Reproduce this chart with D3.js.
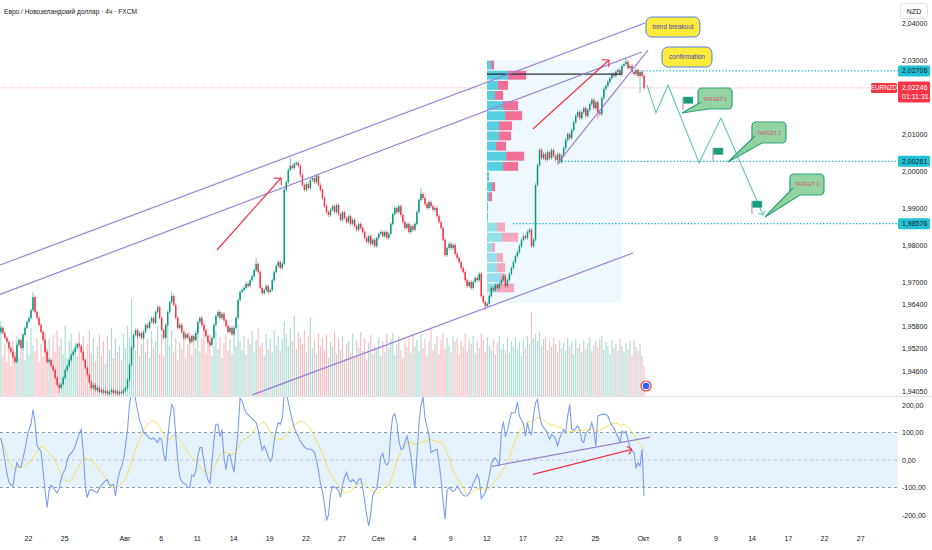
<!DOCTYPE html>
<html><head><meta charset="utf-8">
<script src="https://cdn.jsdelivr.net/npm/d3@7"></script>
<style>
html,body{margin:0;padding:0;background:#fff;}
svg{display:block;font-family:"Liberation Sans",Arial,sans-serif;}
</style></head><body>
<svg id="c" width="932" height="550"></svg>
<script>
// ---------------- DATA ----------------
const title = "Евро / Новозеландский доллар · 4ч · FXCM";
const currencyLabel = "NZD";
const symbol = "EURNZD";
const lastPrice = 2.02246;
const countdown = "01:11:31";
const firstBarDay = -2.25;      // trading-day index of first 4h bar (0 = 22 Jul 2025)
const barsPerDay = 6;
const firstOpen = 1.9565;
const closes = [
1.9576,1.9562,1.9549,1.9538,1.9522,1.9511,1.9497,1.9484,1.9530,1.9543,
1.9522,1.9557,1.9576,1.9592,1.9603,1.9624,1.9659,1.9619,1.9603,1.9584,
1.9565,1.9543,1.9511,1.9484,1.9489,1.9473,1.9462,1.9441,1.9422,1.9414,
1.9424,1.9441,1.9462,1.9473,1.9489,1.9503,1.9511,1.9522,1.9532,1.9527,
1.9511,1.9489,1.9468,1.9449,1.9430,1.9414,1.9422,1.9408,1.9414,1.9403,
1.9408,1.9400,1.9405,1.9397,1.9403,1.9408,1.9400,1.9405,1.9397,1.9403,
1.9400,1.9408,1.9414,1.9435,1.9476,1.9522,1.9557,1.9570,1.9554,1.9562,
1.9549,1.9565,1.9584,1.9576,1.9592,1.9603,1.9589,1.9619,1.9632,1.9603,
1.9570,1.9549,1.9584,1.9619,1.9646,1.9662,1.9638,1.9603,1.9576,1.9584,
1.9565,1.9549,1.9559,1.9549,1.9538,1.9554,1.9543,1.9562,1.9592,1.9603,
1.9584,1.9570,1.9554,1.9538,1.9530,1.9549,1.9584,1.9608,1.9619,1.9603,
1.9614,1.9597,1.9581,1.9565,1.9576,1.9559,1.9576,1.9603,1.9651,1.9673,
1.9678,1.9684,1.9695,1.9689,1.9705,1.9716,1.9732,1.9749,1.9727,1.9684,
1.9670,1.9678,1.9689,1.9673,1.9678,1.9705,1.9727,1.9743,1.9754,1.9738,
1.9749,1.9949,1.9970,2.0003,2.0014,2.0008,2.0019,2.0022,2.0014,1.9989,
1.9962,1.9949,1.9965,1.9954,1.9976,1.9981,1.9970,1.9987,1.9962,1.9949,
1.9927,1.9905,1.9889,1.9881,1.9895,1.9905,1.9889,1.9908,1.9884,1.9868,
1.9889,1.9873,1.9862,1.9878,1.9857,1.9868,1.9851,1.9841,1.9857,1.9846,
1.9835,1.9819,1.9808,1.9824,1.9803,1.9814,1.9797,1.9819,1.9830,1.9835,
1.9824,1.9835,1.9819,1.9830,1.9857,1.9884,1.9900,1.9889,1.9905,1.9881,
1.9862,1.9846,1.9857,1.9835,1.9851,1.9841,1.9857,1.9889,1.9922,1.9938,
1.9927,1.9911,1.9900,1.9916,1.9905,1.9895,1.9900,1.9878,1.9862,1.9846,
1.9814,1.9773,1.9792,1.9803,1.9792,1.9800,1.9776,1.9765,1.9754,1.9738,
1.9727,1.9705,1.9689,1.9700,1.9684,1.9700,1.9711,1.9705,1.9722,1.9662,
1.9646,1.9635,1.9641,1.9662,1.9684,1.9678,1.9692,1.9684,1.9695,1.9705,
1.9716,1.9689,1.9705,1.9722,1.9738,1.9754,1.9770,1.9781,1.9797,1.9814,
1.9824,1.9819,1.9835,1.9841,1.9797,1.9814,1.9962,2.0016,2.0057,2.0035,
2.0046,2.0030,2.0051,2.0035,2.0057,2.0041,2.0030,2.0046,2.0024,2.0041,
2.0062,2.0084,2.0100,2.0089,2.0111,2.0132,2.0149,2.0159,2.0143,2.0159,
2.0170,2.0149,2.0165,2.0181,2.0192,2.0170,2.0186,2.0159,2.0154,2.0197,
2.0222,2.0230,2.0241,2.0251,2.0262,2.0257,2.0268,2.0273,2.0262,2.0284,
2.0289,2.0295,2.0278,2.0284,2.0268,2.0262,2.0273,2.0257,2.0268,2.0257,
2.02246];
const highOverride = {16:1.9673, 85:1.9673, 127:1.9765, 144:2.0035, 209:1.9954, 311:2.0308};
const lowOverride = {29:1.9400, 53:1.9394, 241:1.9624, 297:2.0140, 318:2.0211};
const volumes = [
75,40,52,35,48,30,55,44,60,38, 47,62,36,55,41,68,50,45,58,33,
52,40,63,48,57,35,61,44,66,50, 58,42,70,38,55,62,47,53,40,64,
45,60,37,52,66,43,58,35,49,61, 40,55,32,60,46,68,38,57,44,50,
36,62,48,70,58,98,55,45,63,40, 52,60,44,57,38,65,48,55,70,42,
62,40,56,73,50,66,44,58,36,54, 47,60,38,52,64,41,55,48,67,45,
58,70,43,55,62,40,50,66,47,59, 38,53,61,45,57,42,64,50,72,55,
46,60,41,58,52,65,44,56,68,49, 53,40,62,47,58,44,66,51,60,45,
57,75,62,50,68,55,80,47,64,59, 52,66,44,60,79,48,56,42,63,50,
58,45,61,38,54,49,65,42,57,46, 60,37,52,55,43,62,40,56,48,64,
45,58,36,53,61,42,50,47,59,40, 55,44,62,48,57,63,41,52,60,46,
38,54,49,58,43,61,50,56,45,62, 48,57,40,55,68,46,52,60,42,56,
63,47,58,51,44,60,54,58,41,55, 49,62,45,57,52,60,43,55,48,62,
56,44,59,50,46,57,41,53,60,47, 52,45,58,43,55,49,58,47,54,40,
56,48,60,52,84,58,62,55,64,50, 57,60,46,55,49,58,52,44,56,48,
53,45,58,50,55,42,57,48,52,44, 56,47,53,58,45,51,55,49,57,60,
46,54,50,42,56,48,52,45,57,50, 44,53,47,55,41,56,49,45,52,40,
30];
const cci = [
80,45,0,-50,-80,-90,-95,-46,-10,-25, -25,5,39,80,110,130,184,136,51,42,
30,-40,-110,-173,-110,-92,-100,-110,-120,-105, -70,-46,-34,0,18,25,35,51,75,95,
111,30,-95,-137,-110,-108,-112,-115,-119,-103, -92,-84,-75,-72,-90,-93,-88,-131,-78,-45,
-25,0,50,110,200,250,260,220,180,145, 125,100,93,87,78,76,80,72,63,80,
75,20,-4,80,150,202,186,90,0,-62, -78,-85,-88,-100,-100,-55,-60,-40,15,45,
45,-5,-45,-72,-85,-10,70,130,130,85, 110,10,-34,15,20,-15,-44,30,105,225,
215,190,172,165,158,150,143,136,110,70, 36,50,35,12,-5,10,70,110,136,130,
150,240,245,210,175,145,115,100,85,68, 58,47,42,39,39,36,28,0,-38,-85,
-115,-160,-220,-200,-125,-96,-100,-103,-110,-135, -90,-62,-46,-70,-80,-70,-78,-88,-70,-68,
-100,-150,-200,-240,-195,-130,-112,-107,-50,10, 25,-8,-18,-10,100,160,168,136,70,39,
40,65,87,55,15,-50,-100,15,130,200, 230,155,120,90,28,32,36,39,-10,-70,
-150,-215,-110,-100,-107,-115,-110,-95,-105,-119, -128,-131,-130,-120,-107,-85,-70,-52,-70,-140,
-130,-119,-90,-58,-15,2,8,-5,-22,100, 140,87,105,140,172,170,175,211,160,145,
130,87,136,100,93,160,208,220,160,130, 118,111,95,75,93,88,75,51,80,95,
111,99,160,202,111,108,115,124,111,70, 63,99,105,111,136,105,51,160,163,166,
166,166,160,140,125,118,99,85,63,105, 99,105,75,45,33,27,-28,-10,-22,39,
-131];
const cciSmoothLen = 14;
const priceTicks = [2.04,2.03,2.01,2.00,1.99,1.98,1.97,1.964,1.958,1.952,1.946,1.9405];
const cciTicks = [200,100,0,-100,-200];
const cciBand = [100,-100];
const tickDates = ["2025-07-22","2025-07-25","2025-08-01","2025-08-06","2025-08-11","2025-08-14","2025-08-19","2025-08-22","2025-08-27","2025-09-01","2025-09-04","2025-09-09","2025-09-12","2025-09-17","2025-09-22","2025-09-25","2025-10-01","2025-10-06","2025-10-09","2025-10-14","2025-10-17","2025-10-22","2025-10-27"];
const tickLabels = ["22","25","Авг","6","11","14","19","22","27","Сен","4","9","12","17","22","25","Окт","6","9","14","17","22","27"];
const levels = [2.02706, 2.00261, 1.98576];
const levelStart = [51.0, 43.95, 40.2];
// volume profile (fixed range)
const profileStart = 38.06, profileEnd = 49.25, profileTop = 2.0300, profileBottom = 1.9643;
const profileUp   = [4,21,11,8,16,18,12,12,9,19,16,2,5,2,1,1,10,15,5,10,10,13,10,0];
const profileDown = [3,18,10,8,15,17,13,12,10,18,15,0,3,3,0,0,8,16,3,6,8,5,17,0];
const pocPrice = 2.0262;
// drawings: [tradingDay, price]
const channelLines = [
  [[-2.32,1.97459],[51.16,2.0400]],
  [[-2.32,1.96662],[50.91,2.03216]],
  [[18.57,1.93946],[50.17,1.97784]],
  [[43.86,2.00189],[51.41,2.0327]]
];
const priceArrows = [
  [[15.67,1.97865],[20.98,1.99811]],
  [[41.87,2.01135],[48.18,2.0300]]
];
const cciLine = [[38.47,-23],[51.58,83]];
const cciArrow = [[41.87,-52],[50.08,39]];
const projection = [[51.33,2.0232],[52.07,2.0157],[53.07,2.0232],[55.64,2.0022],[57.46,2.0143],[60.95,1.9881]];
const notes = [
  {text:"trend breakout", t:51.24, p:2.04162},
  {text:"confirmation",   t:52.57, p:2.03351}
];
const targets = [
  {text:"TARGET 1", t:55.56, p:2.02243, tipT:54.23, tipP:2.01568},
  {text:"TARGET 2", t:60.03, p:2.01324, tipT:58.04, tipP:2.00243},
  {text:"TARGET 3", t:63.18, p:1.99919, tipT:61.11, tipP:1.98757}
];
const flags = [[54.31,2.01649],[56.80,2.0027],[60.03,1.98838]];

// ---------------- LAYOUT ----------------
const svg = d3.select("#c");
const paneR = 898, priceBot = 396, cciTop = 397, cciBot = 528;
const FONT = 7;
const x = d3.scaleLinear().domain([0,69]).range([28, 28+12.06*69]);
const y = d3.scaleLinear().domain([1.94,2.04]).range([393,23]);
const vy = d3.scaleLinear().domain([0,100]).range([priceBot,priceBot-100]);
const cy = d3.scaleLinear().domain([-200,200]).range([515,405]);

function tradingDay(s){
  const base = Date.UTC(2025,6,22);
  const [Y,M,D] = s.split("-").map(Number);
  const t = Date.UTC(Y,M-1,D);
  let n = 0;
  for(let d=base; d<t; d+=86400000){ const wd=new Date(d).getUTCDay(); if(wd!==0&&wd!==6) n++; }
  return n;
}
const fmtP = v => d3.format(".5f")(v).replace(".",",");
const fmtC = v => d3.format(".2f")(v).replace(".",",").replace("−","-");

const defs = svg.append("defs");
defs.append("clipPath").attr("id","cp").append("rect").attr("x",0).attr("y",0).attr("width",paneR).attr("height",priceBot);
defs.append("clipPath").attr("id","cc").append("rect").attr("x",0).attr("y",cciTop).attr("width",paneR).attr("height",cciBot-cciTop);

const gP = svg.append("g").attr("clip-path","url(#cp)");
const gC = svg.append("g").attr("clip-path","url(#cc)");

// bars
const bars = closes.map((c,i)=>{
  const o = i===0 ? firstOpen : closes[i-1];
  const w = 0.0005;
  const hi = highOverride[i]!==undefined ? highOverride[i] : Math.max(o,c)+w;
  const lo = lowOverride[i]!==undefined ? lowOverride[i] : Math.min(o,c)-w;
  return {i, t:firstBarDay + i/barsPerDay, o, c, hi, lo, up:c>=o, v:volumes[i], cci:cci[i]};
});

// volume
gP.append("g").selectAll("rect").data(bars).join("rect")
  .attr("x",d=>x(d.t)-0.6).attr("width",1.2)
  .attr("y",d=>vy(d.v)).attr("height",d=>priceBot-vy(d.v))
  .attr("fill",d=>d.up?"rgba(8,153,129,0.33)":"rgba(242,54,69,0.32)");

// current price line
gP.append("line").attr("x1",0).attr("x2",872).attr("y1",y(lastPrice)).attr("y2",y(lastPrice))
  .attr("stroke","#f7a4aa").attr("stroke-width",0.8).attr("stroke-dasharray","1,1");

// volume profile
const px0 = x(profileStart), px1 = x(profileEnd);
gP.append("rect").attr("x",px0).attr("y",y(profileTop)).attr("width",px1-px0).attr("height",y(profileBottom)-y(profileTop))
  .attr("fill","#eef8fd");
const step = (profileTop-profileBottom)/profileUp.length;
const pw = d3.scaleLinear().domain([0,d3.max(profileUp.map((u,i)=>u+profileDown[i]))]).range([0,0.29*(px1-px0)]);
const gVP = gP.append("g");
profileUp.forEach((u,i)=>{
  const top = profileTop - i*step, bot = top - step;
  const y1 = y(top)+0.6, h = y(bot)-y(top)-1.2;
  const dark = i<16;
  gVP.append("rect").attr("x",px0).attr("y",y1).attr("width",pw(u)).attr("height",h).attr("fill",dark?"#56cfe0":"#93e0ea");
  gVP.append("rect").attr("x",px0+pw(u)).attr("y",y1).attr("width",pw(profileDown[i])).attr("height",h).attr("fill",dark?"#f07098":"#f5a7bb");
});

// levels
levels.forEach((l,i)=>{
  gP.append("line").attr("x1",x(levelStart[i])).attr("x2",paneR).attr("y1",y(l)).attr("y2",y(l))
    .attr("stroke","#16b8cf").attr("stroke-width",1.3).attr("stroke-dasharray","1.3,2");
});

// candles
const gK = gP.append("g");
gK.selectAll("line").data(bars).join("line")
  .attr("x1",d=>x(d.t)).attr("x2",d=>x(d.t)).attr("y1",d=>y(d.hi)).attr("y2",d=>y(d.lo))
  .attr("stroke",d=>d.up?"#089981":"#f23645").attr("stroke-width",0.7).attr("opacity",0.75);
gK.selectAll("rect").data(bars).join("rect")
  .attr("x",d=>x(d.t)-0.75).attr("width",1.5)
  .attr("y",d=>y(Math.max(d.o,d.c))).attr("height",d=>Math.max(1,Math.abs(y(d.o)-y(d.c))))
  .attr("fill",d=>d.up?"#089981":"#f23645");

// POC line
gP.append("line").attr("x1",px0).attr("x2",px1).attr("y1",y(pocPrice)).attr("y2",y(pocPrice))
  .attr("stroke","#2a2e39").attr("stroke-width",1.3);

// channel lines
const lineP = d3.line().x(d=>x(d[0])).y(d=>y(d[1]));
channelLines.forEach(l=>gP.append("path").attr("d",lineP(l)).attr("fill","none").attr("stroke","#9a80d6").attr("stroke-width",1.2));

function arrowHead(g,x1,y1,x2,y2,len,color,w){
  const a = Math.atan2(y2-y1,x2-x1);
  const p = d3.path();
  [Math.PI*0.75,-Math.PI*0.75].forEach(b=>{p.moveTo(x2,y2);p.lineTo(x2+len*Math.cos(a+b),y2+len*Math.sin(a+b));});
  g.append("path").attr("d",p.toString()).attr("fill","none").attr("stroke",color).attr("stroke-width",w);
}
priceArrows.forEach(a=>{
  gP.append("path").attr("d",lineP(a)).attr("fill","none").attr("stroke","#f23645").attr("stroke-width",1.2);
  arrowHead(gP,x(a[0][0]),y(a[0][1]),x(a[1][0]),y(a[1][1]),7,"#f23645",1.2);
});

// projection zigzag
gP.append("path").attr("d",lineP(projection)).attr("fill","none").attr("stroke","#6cc9b9").attr("stroke-width",1.2);
{ const n=projection.length; arrowHead(gP,x(projection[n-2][0]),y(projection[n-2][1]),x(projection[n-1][0]),y(projection[n-1][1]),5,"#6cc9b9",1.2); }

// flags
flags.forEach(f=>{
  const fx=x(f[0]), fy=y(f[1]);
  gP.append("line").attr("x1",fx).attr("x2",fx).attr("y1",fy).attr("y2",fy-13).attr("stroke","#8e939e").attr("stroke-width",1);
  gP.append("rect").attr("x",fx+0.5).attr("y",fy-13).attr("width",9.5).attr("height",6.5).attr("fill","#1a9a7a").attr("stroke","#4fb89c").attr("stroke-width",0.5);
});

// target callouts
targets.forEach(tg=>{
  const bx=x(tg.t), by=y(tg.p), bw=34, bh=21;
  const tx=x(tg.tipT), ty=y(tg.tipP);
  const b1=[bx+3,by+bh-7], b2=[bx+10,by+bh], inner=[bx+12,by+bh-8];
  gP.append("rect").attr("x",bx).attr("y",by).attr("width",bw).attr("height",bh).attr("rx",4)
    .attr("fill","#93d3a2").attr("stroke","#2fa37d").attr("stroke-width",1.2);
  gP.append("path").attr("d",`M${b1}L${tx},${ty}L${b2}L${inner}Z`).attr("fill","#93d3a2");
  gP.append("path").attr("d",`M${b1}L${tx},${ty}L${b2}`).attr("fill","none").attr("stroke","#2fa37d").attr("stroke-width",1.2);
  gP.append("text").attr("x",bx+bw/2).attr("y",by+bh/2+2).attr("text-anchor","middle")
    .attr("font-size",5.8).attr("fill","#d94f76").attr("textLength",24).attr("lengthAdjust","spacingAndGlyphs").text(tg.text);
});

// yellow notes
notes.forEach((n,i)=>{
  const bx=x(n.t), by=y(n.p), bw= i===0?54:50, bh=20;
  gP.append("rect").attr("x",bx).attr("y",by).attr("width",bw).attr("height",bh).attr("rx",6)
    .attr("fill","#ffeb3b").attr("stroke","#2962ff").attr("stroke-width",0.8);
  gP.append("text").attr("x",bx+bw/2).attr("y",by+bh/2+2.3).attr("text-anchor","middle")
    .attr("font-size",6.6).attr("fill","#4a3fb5").attr("textLength",i===0?41:36).attr("lengthAdjust","spacingAndGlyphs").text(n.text);
});

// event icon
{ const ex=x(bars[bars.length-1].t)+2, ey=386;
  gP.append("circle").attr("cx",ex).attr("cy",ey).attr("r",5).attr("fill","#fff").attr("stroke","#f23645").attr("stroke-width",1.2);
  gP.append("circle").attr("cx",ex).attr("cy",ey).attr("r",3.3).attr("fill","#2962ff"); }

// ---------------- CCI pane ----------------
gC.append("rect").attr("x",0).attr("width",paneR).attr("y",cy(cciBand[0])).attr("height",cy(cciBand[1])-cy(cciBand[0])).attr("fill","#e6f3fd");
[100,0,-100].forEach(v=>gC.append("line").attr("x1",0).attr("x2",paneR).attr("y1",cy(v)).attr("y2",cy(v))
  .attr("stroke",v===0?"#b8bcc6":"#8b8f99").attr("stroke-width",0.9).attr("stroke-dasharray","3,3"));
const cciMA = cci.map((v,i)=>d3.mean(cci.slice(Math.max(0,i-cciSmoothLen+1),i+1)));
const lineC = d3.line().x(d=>x(d.t)).y(d=>cy(d.v));
gC.append("path").attr("d",lineC(bars.map((b,i)=>({t:b.t,v:cciMA[i]})))).attr("fill","none").attr("stroke","#f9df5c").attr("stroke-width",1);
gC.append("path").attr("d",lineC(bars.map(b=>({t:b.t,v:b.cci})))).attr("fill","none").attr("stroke","#7b9df3").attr("stroke-width",1.1);
const lineCC = d3.line().x(d=>x(d[0])).y(d=>cy(d[1]));
gC.append("path").attr("d",lineCC(cciLine)).attr("fill","none").attr("stroke","#9a80d6").attr("stroke-width",1.2);
gC.append("path").attr("d",lineCC(cciArrow)).attr("fill","none").attr("stroke","#f23645").attr("stroke-width",1.3);
arrowHead(gC,x(cciArrow[0][0]),cy(cciArrow[0][1]),x(cciArrow[1][0]),cy(cciArrow[1][1]),6,"#f23645",1.3);

// separator
svg.append("line").attr("x1",0).attr("x2",932).attr("y1",priceBot+0.5).attr("y2",priceBot+0.5).attr("stroke","#e0e3eb").attr("stroke-width",1);

// ---------------- Axes ----------------
const txt = "#131722";
const yAx = d3.axisRight(y).tickValues(priceTicks).tickSize(0).tickPadding(0).tickFormat(fmtP);
const gYA = svg.append("g").attr("transform",`translate(902,0)`).call(yAx);
gYA.select(".domain").remove();
gYA.selectAll("text").attr("font-size",FONT).attr("fill",txt).attr("font-family","Liberation Sans, Arial");
const cAx = d3.axisRight(cy).tickValues(cciTicks).tickSize(0).tickPadding(0).tickFormat(fmtC);
const gCA = svg.append("g").attr("transform",`translate(902,0)`).call(cAx);
gCA.select(".domain").remove();
gCA.selectAll("text").attr("font-size",FONT).attr("fill",txt).attr("font-family","Liberation Sans, Arial");

const xAx = d3.axisBottom(x).tickValues(tickDates.map(tradingDay)).tickSize(0).tickPadding(0).tickFormat((d,i)=>tickLabels[i]);
const gXA = svg.append("g").attr("transform",`translate(0,536)`).call(xAx);
gXA.select(".domain").remove();
gXA.selectAll("text").attr("font-size",FONT).attr("fill",txt).attr("font-family","Liberation Sans, Arial");

// axis price labels
levels.forEach(l=>{
  svg.append("rect").attr("x",898).attr("y",y(l)-5.5).attr("width",32).attr("height",11).attr("rx",1.5).attr("fill","#22c1d6");
  svg.append("text").attr("x",902).attr("y",y(l)+2.5).attr("font-size",FONT).attr("fill",txt).text(fmtP(l));
});
{ const ly=y(lastPrice);
  svg.append("rect").attr("x",871).attr("y",ly-5).attr("width",26).attr("height",10).attr("rx",1.5).attr("fill","#f23645");
  svg.append("text").attr("x",884).attr("y",ly+2.4).attr("text-anchor","middle").attr("font-size",6.3).attr("fill","#fff").text(symbol);
  svg.append("rect").attr("x",898).attr("y",ly-6.5).attr("width",32).attr("height",21).attr("rx",1.5).attr("fill","#f23645");
  svg.append("text").attr("x",902).attr("y",ly+2).attr("font-size",FONT).attr("fill","#fff").text(fmtP(lastPrice));
  svg.append("text").attr("x",902).attr("y",ly+11).attr("font-size",FONT).attr("fill","#fff").text(countdown); }

// NZD box
svg.append("rect").attr("x",900.5).attr("y",3.5).attr("width",27).attr("height",15).attr("rx",3).attr("fill","#fff").attr("stroke","#e0e3eb");
svg.append("text").attr("x",914).attr("y",13.5).attr("text-anchor","middle").attr("font-size",FONT).attr("fill",txt).text(currencyLabel);

// title
svg.append("text").attr("x",4).attr("y",14).attr("font-size",7.6).attr("fill",txt)
  .attr("textLength",133).attr("lengthAdjust","spacingAndGlyphs").text(title);
</script>
</body></html>
